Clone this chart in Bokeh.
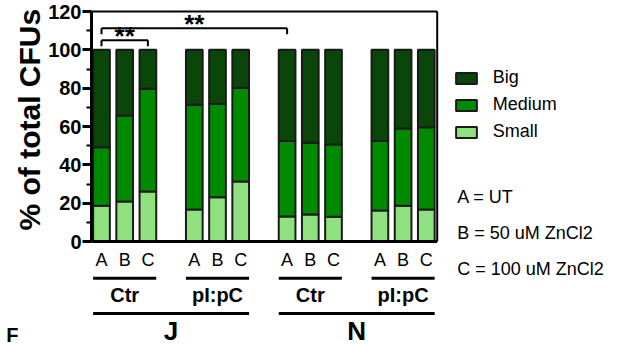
from bokeh.plotting import figure
from bokeh.models import (ColumnDataSource, Range1d, SingleIntervalTicker,
                          FixedTicker, LinearAxis, Legend, LegendItem, Title)
from bokeh.embed import file_html
from bokeh.resources import INLINE
from bokeh.core.properties import value

# ---------------- data ----------------
conditions = ["A", "B", "C", "A", "B", "C", "A", "B", "C", "A", "B", "C"]
treatments = ["Ctr", "pI:pC", "Ctr", "pI:pC"]
strains = ["J", "N"]
small = [18.6, 20.9, 26.1, 16.7, 23.1, 31.3, 13.0, 14.1, 12.9, 16.2, 18.6, 16.7]
medium = [30.6, 44.8, 53.6, 54.6, 48.7, 48.9, 39.5, 37.4, 37.7, 36.3, 40.3, 42.9]
big = [50.8, 34.3, 20.3, 28.7, 28.2, 19.8, 47.5, 48.5, 49.4, 47.5, 41.1, 40.4]
size_classes = ["Small", "Medium", "Big"]
size_colors = ["#8fe07f", "#008a00", "#0a460a"]
sig_start = [0, 0]
sig_end = [2, 6]
sig_level = [105.0, 111.3]
sig_label = ["**", "**"]
condition_notes = ["A = UT", "B = 50 uM ZnCl2", "C = 100 uM ZnCl2"]
panel_letter = "F"

FONT = "Liberation Sans"

# ---------------- layout (pixels inside the figure) ----------------
W, H = 621, 345
FL, FT = 91, 8          # frame left / top
PXX = 23.2              # px per bar slot
Y120, Y0 = 11, 241      # figure-y of value 120 and of value 0
PXY = (Y0 - Y120) / 120.0
BAR_W = 0.72

x_start = -10.0 / PXX
x_end = x_start + (W - FL) / PXX
y_end = 120 + (Y120 - FT) / PXY
y_start = -(H - Y0) / PXY


def fx(px):
    return x_start + (px - FL) / PXX


def fy(py):
    return (Y0 - py) / PXY


# bar positions: groups of three with a one-slot gap
xs = [(i // 3) * 4 + (i % 3) for i in range(len(small))]

src = ColumnDataSource(dict(x=xs, Small=small, Medium=medium, Big=big,
                            cond=conditions))

p = figure(width=W, height=H, output_backend="svg", toolbar_location=None,
           x_range=Range1d(x_start, x_end), y_range=Range1d(y_start, y_end),
           x_axis_location=None, y_axis_location="left",
           min_border_left=FL, min_border_right=0, min_border_top=FT,
           min_border_bottom=0)
p.outline_line_color = None
p.xgrid.grid_line_color = None
p.ygrid.grid_line_color = None
p.background_fill_color = "white"

rs = p.vbar_stack(size_classes, x="x", width=BAR_W, source=src,
                  fill_color=size_colors, line_color="#1a1a1a", line_width=2)

# y axis (ticks and numbers)
ya = p.yaxis[0]
ya.ticker = SingleIntervalTicker(interval=20, num_minor_ticks=2)
ya.bounds = (0, 120)
ya.axis_line_width = 3
ya.axis_line_color = "black"
ya.major_tick_line_width = 3
ya.major_tick_out = 9
ya.major_tick_in = 0
ya.minor_tick_line_width = 2
ya.minor_tick_out = 5
ya.minor_tick_in = 0
ya.major_label_text_font = FONT
ya.major_label_text_font_size = "20px"
ya.major_label_text_font_style = "bold"
ya.major_label_text_color = "black"
ya.major_label_standoff = 1

# y axis title: starts (at its "%" end) 115 px above the frame bottom
ytitle = Title(text="% of total CFUs", align="left", offset=H - 230,
               standoff=0, text_font=FONT, text_font_size="30px",
               text_font_style="bold", text_color="black")
p.add_layout(ytitle, "left")

# panel letter at the bottom-left corner: label of a tick-less outer axis,
# pushed to the bottom of the frame with leading blank lines
extra = {}
if "axis_label_orientation" in LinearAxis.properties():
    extra["axis_label_orientation"] = "horizontal"
letter_ax = LinearAxis(ticker=FixedTicker(ticks=[]), axis_line_color=None,
                       major_tick_line_color=None, minor_tick_line_color=None,
                       major_tick_out=0, minor_tick_out=0,
                       major_label_standoff=0, axis_label_standoff=-8,
                       axis_label="\n" * 12 + panel_letter,
                       axis_label_text_font=FONT,
                       axis_label_text_font_size="20px",
                       axis_label_text_line_height=1.2,
                       axis_label_text_font_style="bold",
                       axis_label_text_color="black", **extra)
p.add_layout(letter_ax, "left")

# box: bottom axis line, top and right lines
xr = xs[-1] + 0.47
p.segment(x0=[x_start], y0=[0], x1=[xr], y1=[0], line_color="black", line_width=3)
p.segment(x0=[x_start, xr], y0=[120, 0], x1=[xr, xr], y1=[120, 120],
          line_color="black", line_width=2)

# significance brackets
tick_d = 6.0 / PXY
bx0, by0, bx1, by1 = [], [], [], []
for a, b, lv in zip(sig_start, sig_end, sig_level):
    xa, xb = xs[a], xs[b]
    bx0 += [xa, xa, xb]
    by0 += [lv, lv - tick_d, lv - tick_d]
    bx1 += [xb, xa, xb]
    by1 += [lv, lv, lv]
p.segment(x0=bx0, y0=by0, x1=bx1, y1=by1, line_color="black", line_width=2)
p.text(x=[(xs[a] + xs[b]) / 2 for a, b in zip(sig_start, sig_end)],
       y=[lv + 4.0 / PXY for lv in sig_level], text=sig_label,
       text_font=value(FONT), text_font_size="26px", text_font_style="bold",
       text_align="center", text_baseline="middle", text_color="black")

# condition labels under bars
p.text(x="x", y=fy(259.5), text="cond", source=src, text_font=value(FONT),
       text_font_size="18px", text_align="center", text_baseline="middle",
       text_color="black")

# treatment groups
gx0 = [xs[3 * g] - BAR_W / 2 for g in range(len(treatments))]
gx1 = [xs[3 * g + 2] + BAR_W / 2 for g in range(len(treatments))]
p.segment(x0=gx0, y0=fy(277.7), x1=gx1, y1=fy(277.7), line_color="black",
          line_width=3)
p.text(x=[(a + b) / 2 for a, b in zip(gx0, gx1)], y=fy(294), text=treatments,
       text_font=value(FONT), text_font_size="20px", text_font_style="bold",
       text_align="center", text_baseline="middle", text_color="black")

# strain groups
sx0 = [xs[6 * s] - BAR_W / 2 for s in range(len(strains))]
sx1 = [xs[6 * s + 5] + BAR_W / 2 for s in range(len(strains))]
p.segment(x0=sx0, y0=fy(313), x1=sx1, y1=fy(313), line_color="black", line_width=3)
p.text(x=[(a + b) / 2 for a, b in zip(sx0, sx1)], y=fy(330), text=strains,
       text_font=value(FONT), text_font_size="26px", text_font_style="bold",
       text_align="center", text_baseline="middle", text_color="black")

# legend (Big on top)
items = [LegendItem(label=name, renderers=[r])
         for name, r in zip(size_classes[::-1], rs[::-1])]
legend = Legend(items=items, location=(361.7, 203), orientation="vertical",
                glyph_width=26, glyph_height=14, label_height=20, spacing=6,
                label_standoff=14, padding=0, margin=0,
                border_line_color=None, background_fill_alpha=0,
                label_text_font=FONT, label_text_font_size="18px",
                label_text_color="black")
p.add_layout(legend)

# condition notes
p.text(x=[fx(456.7)] * 3, y=[fy(196.7), fy(232.7), fy(268.3)],
       text=condition_notes, text_font=value(FONT), text_font_size="18px",
       text_align="left", text_baseline="middle", text_color="black")

open("out.html", "w").write(file_html(p, INLINE))
